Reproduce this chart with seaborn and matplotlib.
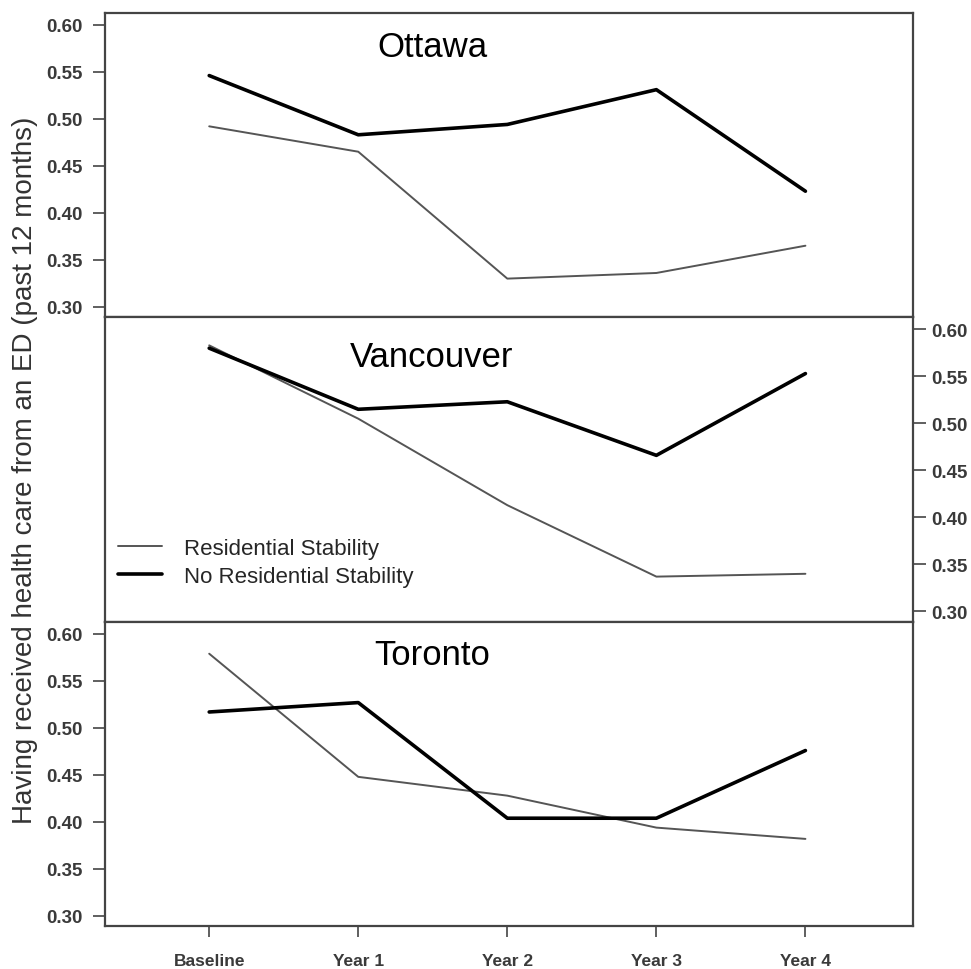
import numpy as np
import pandas as pd
import matplotlib
matplotlib.use("Agg")
import matplotlib.pyplot as plt
import seaborn as sns

periods = ["Baseline", "Year 1", "Year 2", "Year 3", "Year 4"]
cities = ["Ottawa", "Vancouver", "Toronto"]

ottawa_stable = [0.492, 0.465, 0.330, 0.336, 0.365]
ottawa_unstable = [0.546, 0.483, 0.494, 0.531, 0.423]
vancouver_stable = [0.583, 0.505, 0.413, 0.337, 0.340]
vancouver_unstable = [0.580, 0.515, 0.523, 0.466, 0.553]
toronto_stable = [0.579, 0.448, 0.428, 0.394, 0.382]
toronto_unstable = [0.517, 0.527, 0.404, 0.404, 0.476]

yticks = [0.30, 0.35, 0.40, 0.45, 0.50, 0.55, 0.60]

series = {
	"Ottawa": (ottawa_stable, ottawa_unstable),
	"Vancouver": (vancouver_stable, vancouver_unstable),
	"Toronto": (toronto_stable, toronto_unstable),
}

rows = []
for city in cities:
	stable, unstable = series[city]
	for i, p in enumerate(periods):
		rows.append({"city": city, "x": i, "period": p, "group": "Residential Stability", "value": stable[i]})
		rows.append({"city": city, "x": i, "period": p, "group": "No Residential Stability", "value": unstable[i]})
df = pd.DataFrame(rows)

sns.set_style("white")
plt.rcParams["font.family"] = ["Liberation Sans", "DejaVu Sans"]

fig, axes = plt.subplots(3, 1, figsize=(9.71, 9.70), dpi=100, sharex=True)
fig.subplots_adjust(left=0.108, right=0.940, bottom=0.044, top=0.986, hspace=0)

styles = {"Residential Stability": ("#555555", 1.4), "No Residential Stability": ("black", 2.6)}
title_y = {"Ottawa": 0.89, "Vancouver": 0.872, "Toronto": 0.892}
tick_col = "#3a3a3a"

for ax, city in zip(axes, cities):
	sub = df[df["city"] == city]
	for grp, (col, lw) in styles.items():
		sns.lineplot(data=sub[sub["group"] == grp], x="x", y="value", ax=ax,
					 color=col, linewidth=lw, label=grp, errorbar=None)
	ax.set_ylim(0.289, 0.613)
	ax.set_xlim(-0.7, 4.72)
	ax.set_yticks(yticks)
	ax.set_yticklabels([f"{v:.2f}" for v in yticks], fontsize=13.5, fontweight="semibold", color=tick_col)
	ax.set_xlabel("")
	ax.set_ylabel("")
	for s in ax.spines.values():
		s.set_color("#444444")
		s.set_linewidth(1.6)
		s.set_visible(True)
	ax.text(0.405, title_y[city], city, transform=ax.transAxes, ha="center", va="center",
			fontsize=25, color="black")
	ax.tick_params(axis="y", direction="out", length=9, width=1.2, color="#444444", left=True, pad=7)
	ax.tick_params(axis="x", bottom=False)
	if ax.get_legend() is not None:
		ax.get_legend().remove()

# middle panel ticks on the right
axes[1].yaxis.tick_right()
axes[1].tick_params(axis="y", direction="out", length=9, width=1.2, color="#444444",
					right=True, left=False, pad=4)

# legend in middle panel
axes[1].legend(loc="lower left", bbox_to_anchor=(0.016, 0.115), frameon=False,
			   prop={"size": 16}, handlelength=2.0, handletextpad=1.0,
			   labelspacing=0.3, borderpad=0, borderaxespad=0)

bottom = axes[2]
bottom.set_xticks(range(len(periods)))
bottom.set_xticklabels(periods, fontsize=12.5, fontweight="bold", color=tick_col)
bottom.tick_params(axis="x", bottom=True, direction="out", length=8, width=1.2, color="#444444", pad=11)

fig.text(0.026, 0.515, "Having received health care from an ED (past 12 months)", rotation=90,
		 ha="center", va="center", fontsize=20, color="#333333")

fig.savefig("out.png", dpi=100)
